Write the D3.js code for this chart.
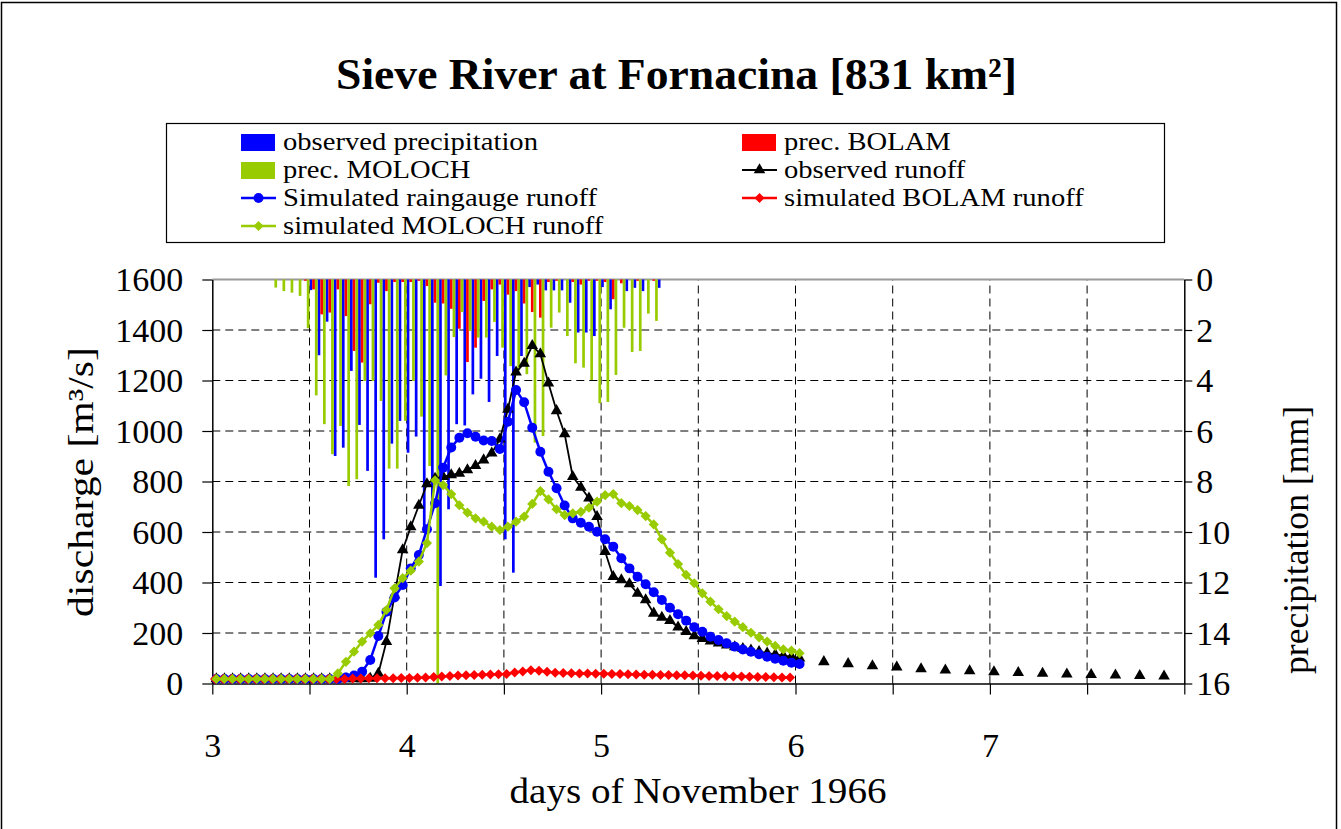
<!DOCTYPE html>
<html>
<head>
<meta charset="utf-8">
<script src="https://cdn.jsdelivr.net/npm/d3@7"></script>
<style>
  body { margin: 0; background: #fff; }
  svg { display: block; }
  text { font-family: "Liberation Serif", "Times New Roman", serif; fill: #000; }
</style>
</head>
<body>
<div id="chart"></div>
<script>
// hourly series, hour 0 = 3 Nov 1966 00:00
// precipitation [mm/h]
var obsPrecip = [0, 0, 0, 0, 0, 0, 0, 0, 0, 0, 0, 0, 0.42, 3.0, 1.67, 6.99, 6.66, 3.62, 5.76, 7.58,
  11.81, 10.29, 6.5, 5.6, 6.86, 6.22, 10.03, 8.9, 12.14, 9.1, 5.73, 5.78, 4.55, 3.93, 4.85, 3.03,
  10.29, 11.61, 3.03, 0.3, 0.2, 0.43, 0.43, 0.43, 0.92, 2.1, 2.1, 2.24, 0.3, 1.18, 0, 0.46, 0.33, 0.46, 0, 0.33];
var bolamPrecip = [0, 0, 0, 0, 0, 0, 0, 0, 0, 0, 0, 0.05, 0.39, 1.38, 1.31, 0.39, 1.45, 2.83, 3.29, 0.98,
  0.13, 0.46, 0.1, 0.1, 0.1, 0.05, 0.26, 0.92, 0.95, 1.16, 1.95, 3.27, 2.7, 0.85, 0.39, 0.2,
  0.6, 0.46, 0.95, 1.29, 1.51, 0.1, 0.05, 0, 0.1, 0.2, 0.05, 0.05, 0.1, 0.78, 0.15, 0, 0.05, 0, 0.05, 0];
var molochPrecip = [0, 0, 0, 0, 0, 0, 0, 0.32, 0.46, 0.52, 0.65, 1.93, 4.59, 5.73, 6.92, 5.8, 8.18, 7.91, 4.02, 4.02,
  4.81, 7.49, 7.49, 5.6, 4.02, 5.43, 7.39, 16, 3.8, 2.28, 1.29, 2.04, 2.3, 2.3, 1.68, 2.7,
  3.43, 3.6, 3.75, 6.46, 6.2, 1.91, 1.31, 2.24, 3.32, 3.49, 3.98, 4.9, 4.85, 3.78, 1.91, 2.87, 2.83, 1.35, 1.64, 0];

// runoff [m3/s]
var obsRunoff = [18, 18, 18, 18, 18, 18, 18, 18, 18, 18, 18, 18, 18, 18, 18, 18, 18, 18, 18, 20,
  40, 166, 350, 529, 620, 705, 790, 812, 819, 826, 832, 846, 863, 885, 912, 968,
  1086, 1233, 1268, 1338, 1305, 1189, 1080, 988, 819, 777, 734, 661, 522, 423, 410, 394,
  357, 331, 278, 262, 249, 223, 205, 188, 178, 168, 160, 152, 145, 138, 132, 126, 120, 115, 110, 106, 100];
// after 6 Nov only every 3 hours, starting at hour 75
var obsRunoffLate = [86, 78, 70, 65, 58, 53, 50, 46, 43, 40, 37, 35, 33, 31, 29];
var simGauge = [18, 18, 18, 18, 18, 18, 18, 18, 18, 18, 18, 18, 18, 18, 18, 18, 24, 32, 47, 93,
  188, 284, 341, 390, 456, 509, 611, 714, 855, 935, 973, 991, 977, 962, 960, 929,
  1037, 1162, 1114, 1013, 918, 839, 773, 705, 654, 637, 621, 601, 571, 542, 496, 456,
  423, 393, 361, 331, 300, 274, 249, 223, 205, 185, 172, 159, 146, 135, 126, 116, 106, 98, 90, 82, 77];
var simBolam = [18, 18, 18, 18, 18, 18, 18, 18, 18, 18, 18, 18, 18, 18, 18, 18, 18,
  20, 20, 21, 21, 21, 21, 22, 22, 23, 24, 26, 28, 30, 32, 33, 34, 35, 36, 37, 38,
  44, 48, 52, 50, 47, 43, 42, 41, 40, 40, 39, 39, 38, 38,
  37, 36, 35, 35, 34, 34, 33, 33, 32, 31, 30, 30, 29, 28, 28, 27, 26, 26, 25, 24, 24];
var simMoloch = [18, 18, 18, 18, 18, 18, 18, 18, 18, 18, 18, 18, 18, 18, 18, 40, 86, 126, 166, 199,
  232, 291, 377, 417, 447, 483, 556, 805, 786, 750, 706, 677, 654, 641, 621, 608,
  621, 641, 661, 711, 762, 729, 690, 667, 674, 680, 696, 720, 746, 750, 714, 703,
  687, 663, 630, 571, 518, 473, 430, 397, 357, 324, 294, 267, 245, 223, 201, 183, 166, 149, 135, 130, 120];

var dischargeTicks = [0, 200, 400, 600, 800, 1000, 1200, 1400, 1600];
var precipTicks = [0, 2, 4, 6, 8, 10, 12, 14, 16];
var dayTicks = [3, 3.5, 4, 4.5, 5, 5.5, 6, 6.5, 7, 7.5, 8];
var dayLabels = [3, 4, 5, 6, 7];

var BLUE = "#0000ff", RED = "#ff0000", GREEN = "#99cc00";

var W = 1341, H = 829;
var svg = d3.select("#chart").append("svg").attr("width", W).attr("height", H);

// outer frame
svg.append("rect").attr("x", 1.5).attr("y", 2.5).attr("width", 1335).attr("height", 860)
  .attr("fill", "none").attr("stroke", "#000").attr("stroke-width", 1.5);

var x = d3.scaleLinear().domain([3, 8]).range([212.3, 1184.3]);
var yQ = d3.scaleLinear().domain([0, 1600]).range([683.5, 279.5]);
var yP = d3.scaleLinear().domain([0, 16]).range([279.5, 683.5]);

function hourToDay(h) { return 3 + h / 24; }

// grid
svg.append("g").selectAll("line").data(dischargeTicks.filter(d => d > 0 && d < 1600)).join("line")
  .attr("x1", x(3)).attr("x2", x(8)).attr("y1", d => yQ(d)).attr("y2", d => yQ(d))
  .attr("stroke", "#000").attr("stroke-dasharray", "8,5");
svg.append("g").selectAll("line").data(dayTicks.filter(d => d > 3 && d < 8)).join("line")
  .attr("x1", d => x(d)).attr("x2", d => x(d)).attr("y1", yQ(0)).attr("y2", yQ(1600))
  .attr("stroke", "#000").attr("stroke-dasharray", "8,5");
// top border of plot area
svg.append("line").attr("x1", x(3)).attr("x2", x(8)).attr("y1", yQ(1600)).attr("y2", yQ(1600))
  .attr("stroke", "#999").attr("stroke-width", 2);

// precipitation bars, hanging from the top
var hourW = x(hourToDay(1)) - x(hourToDay(0));
var barW = hourW / 3;
var precipSeries = [
  { values: obsPrecip, color: BLUE, slot: 0 },
  { values: bolamPrecip, color: RED, slot: 1 },
  { values: molochPrecip, color: GREEN, slot: 2 }
];
precipSeries.forEach(function (s) {
  svg.append("g").selectAll("rect")
    .data(s.values.map((v, i) => ({ h: i, v: v })).filter(d => d.v > 0))
    .join("rect")
    .attr("x", d => x(hourToDay(d.h)) + s.slot * barW)
    .attr("y", yP(0))
    .attr("width", barW)
    .attr("height", d => yP(Math.min(d.v, 16)) - yP(0))
    .attr("fill", s.color);
});

// axes
var axisFont = 34;
var gLeft = svg.append("g").attr("transform", "translate(" + x(3) + ",0)")
  .call(d3.axisLeft(yQ).tickValues(dischargeTicks).tickSize(10).tickSizeOuter(0).tickPadding(19)
    .tickFormat(d3.format("d")));
var gRight = svg.append("g").attr("transform", "translate(" + x(8) + ",0)")
  .call(d3.axisRight(yP).tickValues(precipTicks).tickSize(8).tickSizeOuter(0).tickPadding(4)
    .tickFormat(d3.format("d")));
var gBottom = svg.append("g").attr("transform", "translate(0," + yQ(0) + ")")
  .call(d3.axisBottom(x).tickValues(dayTicks).tickSize(11).tickSizeOuter(0).tickPadding(38)
    .tickFormat(d => dayLabels.indexOf(d) >= 0 ? d : ""));
[gLeft, gRight, gBottom].forEach(function (g) {
  g.select(".domain").attr("stroke", "#000").attr("stroke-width", 1.5);
  g.selectAll(".tick line").attr("stroke", "#000").attr("stroke-width", 1.2);
  g.selectAll(".tick text").attr("font-size", axisFont)
    .attr("font-family", "Liberation Serif, serif").attr("fill", "#000");
});
gLeft.selectAll(".tick text").attr("dy", "0.33em");
gRight.selectAll(".tick text").attr("dy", "0.33em");

// runoff lines
var runoffSeries = [
  { values: obsRunoff, color: "#000", width: 1.8, symbol: d3.symbolTriangle, size: 58, rot: 0, shift: 0.5 },
  { values: simGauge, color: BLUE, width: 2.5, symbol: d3.symbolCircle, size: 78, rot: 0, shift: 0.5 },
  { values: simBolam, color: RED, width: 2.5, symbol: d3.symbolSquare, size: 50, rot: 45, shift: 0.33 },
  { values: simMoloch, color: GREEN, width: 2.5, symbol: d3.symbolSquare, size: 52, rot: 45, shift: 0.5 }
];
var line = d3.line().x(d => x(d.t)).y(d => yQ(d.v));
runoffSeries.forEach(function (s, i) {
  var pts = s.values.map((v, h) => ({ t: hourToDay(h + s.shift), v: v }));
  if (i === 0) {
    obsRunoffLate.forEach((v, j) => pts.push({ t: hourToDay(75 + 3 * j + s.shift), v: v, late: true }));
  }
  var g = svg.append("g");
  g.append("path").datum(pts.filter(d => !d.late))
    .attr("fill", "none").attr("stroke", s.color).attr("stroke-width", s.width)
    .attr("d", line);
  g.selectAll("path.pt").data(pts).join("path").attr("class", "pt")
    .attr("transform", d => "translate(" + x(d.t) + "," + yQ(d.v) + ") rotate(" + s.rot + ")")
    .attr("d", d3.symbol().type(s.symbol).size(s.size))
    .attr("fill", s.color);
});

// title and axis titles
svg.append("text").attr("x", 676.5).attr("y", 89).attr("text-anchor", "middle")
  .attr("font-size", 45).attr("font-weight", "bold")
  .attr("textLength", 681).attr("lengthAdjust", "spacingAndGlyphs")
  .text("Sieve River at Fornacina [831 km²]");
svg.append("text").attr("transform", "translate(93,482) rotate(-90)").attr("text-anchor", "middle")
  .attr("font-size", 36).attr("textLength", 270).attr("lengthAdjust", "spacingAndGlyphs")
  .text("discharge [m³/s]");
svg.append("text").attr("transform", "translate(1308,540) rotate(-90)").attr("text-anchor", "middle")
  .attr("font-size", 36).attr("textLength", 268).attr("lengthAdjust", "spacingAndGlyphs")
  .text("precipitation [mm]");
svg.append("text").attr("x", 698).attr("y", 803).attr("text-anchor", "middle")
  .attr("font-size", 36).attr("textLength", 377).attr("lengthAdjust", "spacingAndGlyphs")
  .text("days of November 1966");

// legend
svg.append("rect").attr("x", 166.5).attr("y", 123.5).attr("width", 998).attr("height", 119)
  .attr("fill", "#fff").attr("stroke", "#000").attr("stroke-width", 1.2);
var legendItems = [
  { label: "observed precipitation", type: "bar", color: BLUE },
  { label: "prec. BOLAM", type: "bar", color: RED },
  { label: "prec. MOLOCH", type: "bar", color: GREEN },
  { label: "observed runoff", type: "line", s: runoffSeries[0] },
  { label: "Simulated raingauge runoff", type: "line", s: runoffSeries[1] },
  { label: "simulated BOLAM runoff", type: "line", s: runoffSeries[2] },
  { label: "simulated MOLOCH runoff", type: "line", s: runoffSeries[3] }
];
var legend = svg.append("g");
legendItems.forEach(function (it, i) {
  var col = i % 2, row = Math.floor(i / 2);
  var x0 = col === 0 ? 241 : 742, cy = 142 + row * 28;
  var g = legend.append("g");
  if (it.type === "bar") {
    g.append("rect").attr("x", x0).attr("y", cy - 8).attr("width", 34).attr("height", 17).attr("fill", it.color);
  } else {
    g.append("line").attr("x1", x0).attr("x2", x0 + 35).attr("y1", cy).attr("y2", cy)
      .attr("stroke", it.s.color).attr("stroke-width", it.s.width);
    g.append("path").attr("transform", "translate(" + (x0 + 17.5) + "," + cy + ") rotate(" + it.s.rot + ")")
      .attr("d", d3.symbol().type(it.s.symbol).size(it.s.size)).attr("fill", it.s.color);
  }
  var t = g.append("text").attr("x", x0 + 42).attr("y", cy + 8).attr("font-size", 26).text(it.label);
  t.attr("textLength", t.node().getComputedTextLength() * 1.1).attr("lengthAdjust", "spacingAndGlyphs");
});
</script>
</body>
</html>
